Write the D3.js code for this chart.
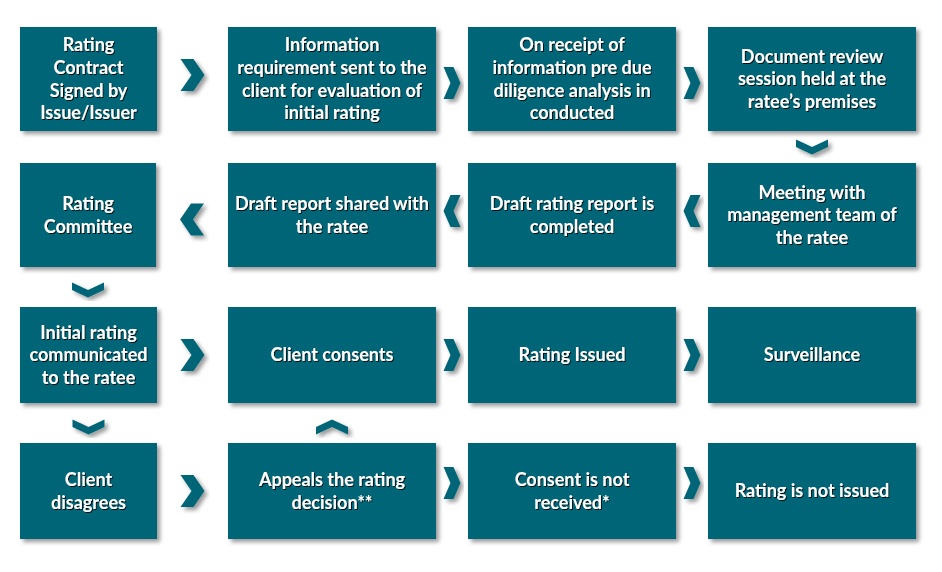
<!DOCTYPE html>
<html>
<head>
<meta charset="utf-8">
<script src="https://cdn.jsdelivr.net/npm/d3@7"></script>
<style>
  body { margin: 0; background: #fff; }
  svg { display: block; }
</style>
</head>
<body>
<svg id="chart" width="942" height="572"></svg>
<script>
// box labels, one entry per step, lines split by "|"
var labels = [
  "Rating|Contract|Signed by|Issue/Issuer",
  "Information|requirement sent to the|client for evaluation of|initial rating",
  "On receipt of|information pre due|diligence analysis in|conducted",
  "Document review|session held at the|ratee\u2019s premises",
  "Rating|Committee",
  "Draft report shared with|the ratee",
  "Draft rating report is|completed",
  "Meeting with|management team of|the ratee",
  "Initial rating|communicated|to the ratee",
  "Client consents",
  "Rating Issued",
  "Surveillance",
  "Client|disagrees",
  "Appeals the rating|decision**",
  "Consent is not|received*",
  "Rating is not issued"
];
var boxRow = [0, 0, 0, 0, 1, 1, 1, 1, 2, 2, 2, 2, 3, 3, 3, 3];
var boxCol = [0, 1, 2, 3, 0, 1, 2, 3, 0, 1, 2, 3, 0, 1, 2, 3];

// arrows between steps: from, to, direction
var arrowFrom = [0, 1, 2, 3, 7, 6, 5, 4, 8, 9, 10, 8, 12, 13, 13, 14];
var arrowTo   = [1, 2, 3, 7, 6, 5, 4, 8, 9, 10, 11, 12, 13, 9, 14, 15];
var arrowDir  = ["right", "right", "right", "down", "left", "left", "left", "down",
                 "right", "right", "right", "down", "right", "up", "right", "right"];
var arrowNudge = [-4, 4, 4, 0, -4, -4, 4.5, 3, 0, 0, 0, 4, 0, 4, -8, -8];

// layout
var colLeft = [20, 228, 468, 708];
var colWidth = [137, 208, 208, 208];
var rowTop = [27, 163, 307, 443];
var rowHeight = [104, 104, 96, 96];

var teal = "#016677";

var svg = d3.select("#chart");

var defs = svg.append("defs");
defs.append("filter").attr("id", "boxShadow")
    .attr("x", "-10%").attr("y", "-10%").attr("width", "130%").attr("height", "130%")
  .append("feDropShadow")
    .attr("dx", 3).attr("dy", 3).attr("stdDeviation", 2)
    .attr("flood-color", "#000").attr("flood-opacity", 0.4);
defs.append("filter").attr("id", "textShadow")
    .attr("x", "-10%").attr("y", "-20%").attr("width", "130%").attr("height", "150%")
  .append("feDropShadow")
    .attr("dx", 1).attr("dy", 1).attr("stdDeviation", 0.6)
    .attr("flood-color", "#000").attr("flood-opacity", 0.85);

var x = d3.scaleOrdinal().domain([0, 1, 2, 3]).range(colLeft);
var w = d3.scaleOrdinal().domain([0, 1, 2, 3]).range(colWidth);
var y = d3.scaleOrdinal().domain([0, 1, 2, 3]).range(rowTop);
var h = d3.scaleOrdinal().domain([0, 1, 2, 3]).range(rowHeight);

var boxes = labels.map(function(t, i) {
  var c = boxCol[i], r = boxRow[i];
  return { lines: t.split("|"), x: x(c), y: y(r), w: w(c) - (r == 1 && c == 0 ? 1 : 0), h: h(r) };
});

// boxes
var g = svg.selectAll("g.step").data(boxes).enter().append("g").attr("class", "step");

g.append("rect")
  .attr("x", function(d) { return d.x; })
  .attr("y", function(d) { return d.y; })
  .attr("width", function(d) { return d.w; })
  .attr("height", function(d) { return d.h; })
  .attr("fill", teal)
  .attr("filter", "url(#boxShadow)");

var lineH = 22.7;
g.each(function(d) {
  var cx = d.x + d.w / 2, cy = d.y + d.h / 2;
  var n = d.lines.length;
  var txt = d3.select(this).append("text")
    .attr("text-anchor", "middle")
    .attr("font-family", "Lato, 'Open Sans', sans-serif")
    .attr("font-weight", 700)
    .attr("font-size", "18px")
    .attr("fill", "#fff")
    .attr("filter", "url(#textShadow)");
  d.lines.forEach(function(line, k) {
    txt.append("tspan")
      .attr("x", cx)
      .attr("y", cy + (k - (n - 1) / 2) * lineH)
      .attr("dy", "0.35em")
      .text(line);
  });
});

// chevrons
function chevron(cx, cy, dir, wide) {
  var ww, hh, d;
  if (dir == "right" || dir == "left") {
    ww = wide ? 24 : 17; hh = 32; d = wide ? 11 : 7;
    var p = [[0, 0], [ww - d, 0], [ww, hh / 2], [ww - d, hh], [0, hh], [d, hh / 2]];
    if (dir == "left") p = p.map(function(q) { return [ww - q[0], q[1]]; });
    return p.map(function(q) { return [cx - ww / 2 + q[0], cy - hh / 2 + q[1]]; });
  } else {
    ww = 32; hh = 15; d = 7.5;
    var p2 = [[0, 0], [ww / 2, d], [ww, 0], [ww, hh - d], [ww / 2, hh], [0, hh - d]];
    if (dir == "up") p2 = p2.map(function(q) { return [q[0], hh - q[1]]; });
    return p2.map(function(q) { return [cx - ww / 2 + q[0], cy - hh / 2 + q[1]]; });
  }
}

var arrows = arrowFrom.map(function(f, i) {
  var a = boxes[f], b = boxes[arrowTo[i]], dir = arrowDir[i];
  var cx, cy;
  if (dir == "right" || dir == "left") {
    var l = Math.min(a.x + a.w, b.x + b.w), r = Math.max(a.x, b.x);
    cx = (l + r) / 2;
    cy = a.y + a.h / 2 + arrowNudge[i];
  } else {
    var top = Math.min(a.y + a.h, b.y + b.h), bot = Math.max(a.y, b.y);
    cx = a.x + a.w / 2;
    cy = (top + bot) / 2 + arrowNudge[i];
  }
  var wide = boxCol[f] == 0 || boxCol[arrowTo[i]] == 0;
  return chevron(cx, cy, dir, wide);
});

svg.selectAll("path.chev").data(arrows).enter().append("path")
  .attr("class", "chev")
  .attr("d", function(p) { return d3.line()(p) + "Z"; })
  .attr("fill", teal)
  .attr("filter", "url(#boxShadow)");
</script>
</body>
</html>
